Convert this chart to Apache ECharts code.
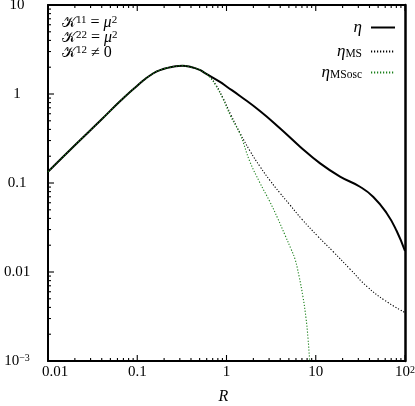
<!DOCTYPE html>
<html><head><meta charset="utf-8">
<script src="https://cdn.jsdelivr.net/npm/echarts@6/dist/echarts.min.js"></script>
<style>html,body{margin:0;padding:0;background:#fff}#c{width:415px;height:406px}</style>
</head><body><div id="c"></div>
<script>
// ---- data ----
const etaR = [0.01,0.02,0.04,0.065,0.1,0.15,0.2,0.25,0.32,0.4,0.5,0.574,0.845,1.0,1.416,2.37,3.97,6.67,11.2,18.7,31.3,44.2,62.4,80.7,100];
const etaV = [0.134,0.266,0.52,0.84,1.24,1.7,1.92,2.02,2.08,2.01,1.87,1.72,1.37,1.215,0.95,0.644,0.412,0.256,0.166,0.118,0.0908,0.0697,0.0457,0.0289,0.0172];

const msR = [0.01,0.02,0.04,0.065,0.1,0.15,0.2,0.25,0.32,0.4,0.5,0.574,0.653,0.763,0.914,1.123,1.417,1.834,2.374,3.072,3.976,5.146,6.961,10.6,15.61,24.2,37.52,59.7,100];
const msV = [0.134,0.266,0.52,0.84,1.24,1.7,1.92,2.02,2.08,2.01,1.87,1.72,1.553,1.262,0.902,0.581,0.365,0.229,0.153,0.1067,0.0772,0.0566,0.0394,0.0251,0.017,0.0108,0.00687,0.00478,0.0035];

const oscR = [0.01,0.02,0.04,0.065,0.1,0.15,0.2,0.25,0.32,0.4,0.5,0.574,0.653,0.763,0.914,1.123,1.417,1.834,2.374,3.072,3.776,4.524,5.282,5.853,6.493,7.196,7.777,8.188,8.511,8.735];
const oscV = [0.134,0.266,0.52,0.84,1.24,1.7,1.92,2.02,2.08,2.01,1.87,1.72,1.54,1.23,0.879,0.5515,0.3552,0.1722,0.1,0.0612,0.0394,0.026,0.01813,0.014,0.00902,0.00524,0.00304,0.00181,0.00108,0.000752];

const xTickValues = [0.01,0.1,1,10,100];
const xTickLabels = ['{b|0.01}','0.1','1','10','10{sup|2}'];
const yTickValues = [0.001,0.01,0.1,1,10];
const yTickLabels = ['10{sup|−3}','0.01','0.1','1','10'];
const xDecades = [0.01,0.1,1,10];
const yDecades = [0.001,0.01,0.1,1];
const seriesNames = ['η','η_MS','η_MSosc'];
const annotLines = ['{k|𝒦}{sup|11}{t| = }{m|μ}{sup|2}','{k|𝒦}{sup|22}{t| = }{m|μ}{sup|2}','{k|𝒦}{sup|12}{t| ≠ 0}'];

// ---- helpers ----
function zip(a,b){return a.map((v,i)=>[v,b[i]]);}
function lookup(vals,labels){
  return v=>{let k=0,best=1e9;vals.forEach((t,i)=>{const d=Math.abs(Math.log10(t)-Math.log10(v));if(d<best){best=d;k=i;}});return labels[k];};
}
function minorTicks(decades){
  const out=[];
  decades.forEach(d=>{for(let m=2;m<=9;m++) out.push(+(d*m).toPrecision(6));});
  return out;
}
const X_MIN=0.01,X_MAX=100,Y_MIN=0.001,Y_MAX=10;
const MAJOR_LEN=6, MINOR_LEN=3;
// tick items: [value, length]
const xTickItems = xTickValues.map(v=>[v,MAJOR_LEN]).concat(minorTicks(xDecades).map(v=>[v,MINOR_LEN]));
const yTickItems = yTickValues.map(v=>[v,MAJOR_LEN]).concat(minorTicks(yDecades).map(v=>[v,MINOR_LEN]));

const FONT='Liberation Serif';
const sup={fontSize:10,fontFamily:FONT,verticalAlign:'top',lineHeight:10,color:'#000'};
function black(w){return {color:'#000',width:w||2};}
const tickLine={stroke:'#000',lineWidth:1.1};

const chart=echarts.init(document.getElementById('c'),null,{renderer:'canvas'});
const legendCommon={orient:'vertical',right:19,itemWidth:24,itemHeight:12,align:'right',padding:0,
  itemStyle:{opacity:0,borderWidth:0}};
const subRich={
  i:{fontFamily:FONT,fontSize:17,fontStyle:'italic',color:'#000',lineHeight:16},
  s:{fontFamily:FONT,fontSize:11.5,color:'#000',verticalAlign:'bottom',lineHeight:11,padding:[0,4,0,0]}};
chart.setOption({
  animation:false,
  backgroundColor:'#fff',
  grid:{left:48,right:10,top:5,bottom:45,containLabel:false,outerBoundsMode:'none'},
  xAxis:[
    {type:'log',logBase:10,min:X_MIN,max:X_MAX,position:'bottom',splitLine:{show:false},
      axisLine:{show:true,onZero:false,lineStyle:black(2)},
      axisTick:{show:false},minorTick:{show:false},
      axisLabel:{show:true,customValues:xTickValues,margin:4,fontFamily:FONT,fontSize:15,color:'#000',
        formatter:lookup(xTickValues,xTickLabels),
        rich:{sup:sup,b:{fontFamily:FONT,fontSize:15,color:'#000',padding:[0,0,0,14]}}},
      name:'R',nameLocation:'middle',nameGap:28,
      nameTextStyle:{fontFamily:FONT,fontSize:16,fontStyle:'italic',color:'#000',padding:[0,6,0,0]}},
    {type:'log',logBase:10,min:X_MIN,max:X_MAX,position:'top',splitLine:{show:false},axisLabel:{show:false},
      axisTick:{show:false},minorTick:{show:false},
      axisLine:{show:true,onZero:false,lineStyle:black(2)}}
  ],
  yAxis:[
    {type:'log',logBase:10,min:Y_MIN,max:Y_MAX,position:'left',splitLine:{show:false},
      axisLine:{show:true,onZero:false,lineStyle:black(2)},
      axisTick:{show:false},minorTick:{show:false},
      axisLabel:{show:true,customValues:yTickValues,margin:31,align:'center',fontFamily:FONT,fontSize:15,color:'#000',
        formatter:lookup(yTickValues,yTickLabels),rich:{sup:sup}}},
    {type:'log',logBase:10,min:Y_MIN,max:Y_MAX,position:'right',splitLine:{show:false},axisLabel:{show:false},
      axisTick:{show:false},minorTick:{show:false},
      axisLine:{show:true,onZero:false,lineStyle:black(2.5)}}
  ],
  legend:[
    Object.assign({},legendCommon,{top:19,data:[seriesNames[0]],formatter:()=>'{i|η}',
      textStyle:{fontFamily:FONT,color:'#000',rich:{i:Object.assign({},subRich.i,{padding:[0,4,0,0]})}}}),
    Object.assign({},legendCommon,{top:43,data:[seriesNames[1]],formatter:()=>'{i|η}{s|MS}',
      textStyle:{fontFamily:FONT,color:'#000',rich:subRich}}),
    Object.assign({},legendCommon,{top:64,data:[seriesNames[2]],formatter:()=>'{i|η}{s|MSosc}',
      textStyle:{fontFamily:FONT,color:'#000',rich:subRich}})
  ],
  graphic:annotLines.map((t,i)=>({type:'text',left:62,top:15+i*15,
    style:{text:t,fill:'#000',
      rich:{k:{fontFamily:'DejaVu Sans',fontSize:15,lineHeight:16},
        sup:{fontFamily:FONT,fontSize:11,verticalAlign:'top',lineHeight:10},
        t:{fontFamily:FONT,fontSize:16,lineHeight:16},
        m:{fontFamily:FONT,fontSize:16,fontStyle:'italic',lineHeight:16}}}})),
  series:[
    // x-axis ticks (bottom and mirrored top), placed through the axis scales
    {type:'custom',name:'xticks',xAxisIndex:0,yAxisIndex:0,silent:true,z:5,clip:false,
      data:xTickItems.map(t=>[t[0],Y_MIN,t[1]]),encode:{x:0,y:1},
      renderItem:(params,api)=>{
        const x=api.value(0),len=api.value(2);
        const pb=api.coord([x,Y_MIN]),pt=api.coord([x,Y_MAX]);
        return {type:'group',children:[
          {type:'line',shape:{x1:pb[0],y1:pb[1],x2:pb[0],y2:pb[1]-len},style:tickLine},
          {type:'line',shape:{x1:pt[0],y1:pt[1],x2:pt[0],y2:pt[1]+len},style:tickLine}]};
      }},
    // y-axis ticks (left)
    {type:'custom',name:'yticks',xAxisIndex:0,yAxisIndex:0,silent:true,z:5,clip:false,
      data:yTickItems.map(t=>[X_MIN,t[0],t[1]]),encode:{x:0,y:1},
      renderItem:(params,api)=>{
        const y=api.value(1),len=api.value(2);
        const pl=api.coord([X_MIN,y]);
        return {type:'line',shape:{x1:pl[0],y1:pl[1],x2:pl[0]+len,y2:pl[1]},style:tickLine};
      }},
    {name:seriesNames[0],type:'line',xAxisIndex:0,yAxisIndex:0,data:zip(etaR,etaV),showSymbol:false,symbol:'none',
      smooth:0.5,clip:true,lineStyle:{color:'#000',width:2},itemStyle:{color:'#000'}},
    {name:seriesNames[1],type:'line',xAxisIndex:0,yAxisIndex:0,data:zip(msR,msV),showSymbol:false,symbol:'none',
      smooth:0.5,clip:true,lineStyle:{color:'#000',width:1.1,type:[1.2,1.8]},itemStyle:{color:'#000'}},
    {name:seriesNames[2],type:'line',xAxisIndex:0,yAxisIndex:0,data:zip(oscR,oscV),showSymbol:false,symbol:'none',
      smooth:0.4,clip:true,lineStyle:{color:'#1b801b',width:1.1,type:[1.2,1.8]},itemStyle:{color:'#1b801b'}}
  ]
});
</script>
</body></html>
